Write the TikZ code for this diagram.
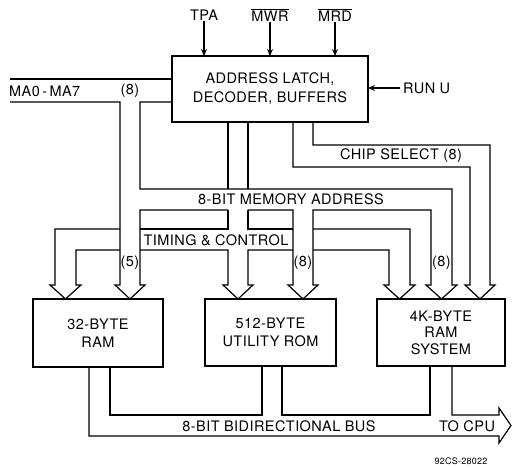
\documentclass[tikz,border=0pt]{standalone}
\usepackage{fontspec}
\setmainfont[LetterSpace=3]{TeX Gyre Heros}
\usetikzlibrary{arrows.meta}
\begin{document}
\begin{tikzpicture}[x=1pt,y=-1pt,
  wall/.style={line width=1.2pt, line join=miter},
  box/.style={draw, line width=1.2pt, inner sep=0pt, outer sep=0pt, align=center,
    font=\fontsize{14.5}{18}\selectfont},
  lbl/.style={inner sep=1pt, font=\fontsize{14.5}{17}\selectfont},
  sig/.style={line width=1.2pt, -{Stealth[length=7pt,width=6pt]}}]
\useasboundingbox (0,0) rectangle (512,468);

% boxes
\node[box, minimum width=196pt, minimum height=66pt] (addr) at (270,89)
  {ADDRESS LATCH,\\[1pt] DECODER, BUFFERS};
\node[box, minimum width=130pt, minimum height=68pt] (ram) at (98,333)
  {32-BYTE\\ RAM};
\node[box, minimum width=131pt, minimum height=67pt] (rom) at (270.5,332.5)
  {512-BYTE\\ UTILITY ROM};
\node[box, minimum width=128pt, minimum height=67pt] (kram) at (441,332.5)
  {4K-BYTE\\[-1.5pt] RAM\\[-1.5pt] SYSTEM};

% control inputs
\node[lbl] (tpa) at (204,15) {TPA};
\node[lbl] (mwr) at (270,15) {$\overline{\hbox{MWR}}$};
\node[lbl] (mrd) at (335,15) {$\overline{\hbox{MRD}}$};
\draw[sig] (tpa.south) -- (tpa.south |- addr.north);
\draw[sig] (mwr.south) -- (mwr.south |- addr.north);
\draw[sig] (mrd.south) -- (mrd.south |- addr.north);
\node[lbl, anchor=west, inner sep=3pt] (runu) at (400,88) {RUN U};
\draw[sig] (runu.west) -- (runu.west -| addr.east);

% MA0-MA7 bus
\node[lbl, anchor=west] (ma) at (8,91) {MA0\,-\,MA7};
\node[lbl] (ma8) at (130,91) {(8)};
\draw[wall] (10,79) -- (172,79);
\draw[wall] (10,102) -- (120,102) -- (120,285) -- (115,285) -- (130,299) -- (145,285)
  -- (140,285) -- (140,210) -- (228,210);
\draw[wall] (172,102) -- (140,102) -- (140,189) -- (452,189) -- (452,285) -- (457,285)
  -- (441.5,299) -- (426,285) -- (431,285) -- (431,210) -- (313,210) -- (313,285)
  -- (318,285) -- (303,299) -- (288,285) -- (293,285) -- (293,210) -- (248,210);
\node[lbl] (mal) at (291,199) {8-BIT MEMORY ADDRESS};
\node[lbl] (m5) at (130,263) {(5)};
\node[lbl] (m8a) at (303,263) {(8)};
\node[lbl] (m8b) at (441.5,263) {(8)};

% timing & control bus
\draw[wall] (228,122) -- (228,189);
\draw[wall] (248,122) -- (248,189);
\draw[wall] (228,210) -- (228,229) -- (140,229);
\draw[wall] (248,210) -- (248,229) -- (293,229);
\draw[wall] (313,229) -- (410,229) -- (410,285) -- (415,285) -- (399.5,299) -- (384,285)
  -- (389,285) -- (389,250) -- (313,250);
\draw[wall] (293,250) -- (248,250) -- (248,285) -- (253,285) -- (238,299) -- (223,285)
  -- (228,285) -- (228,250) -- (140,250);
\draw[wall] (120,250) -- (76,250) -- (76,285) -- (81,285) -- (65.5,299) -- (50,285)
  -- (55,285) -- (55,229) -- (120,229);
\node[lbl] (tc) at (216,240) {TIMING \& CONTROL};

% chip select bus
\draw[wall] (313,122) -- (313,145) -- (490,145) -- (490,285) -- (495,285) -- (480,299)
  -- (465,285) -- (470,285) -- (470,167) -- (293,167) -- (293,122);
\node[lbl] (cs) at (401,156) {CHIP SELECT (8)};

% data bus
\draw[wall] (110,367) -- (110,415) -- (262,415) -- (262,366);
\draw[wall] (282,366) -- (282,415) -- (430,415) -- (430,366);
\draw[wall] (452,366) -- (452,415) -- (499,415) -- (499,408) -- (511,425.5) -- (499,443)
  -- (499,436) -- (89,436) -- (89,367);
\node[lbl] (db) at (279,426) {8-BIT BIDIRECTIONAL BUS};
\node[lbl] (cpu) at (467,426) {TO CPU};

\node[inner sep=0pt, font=\fontsize{9}{10}\selectfont] (fig) at (461,461) {92CS-28022};
\end{tikzpicture}
\end{document}
